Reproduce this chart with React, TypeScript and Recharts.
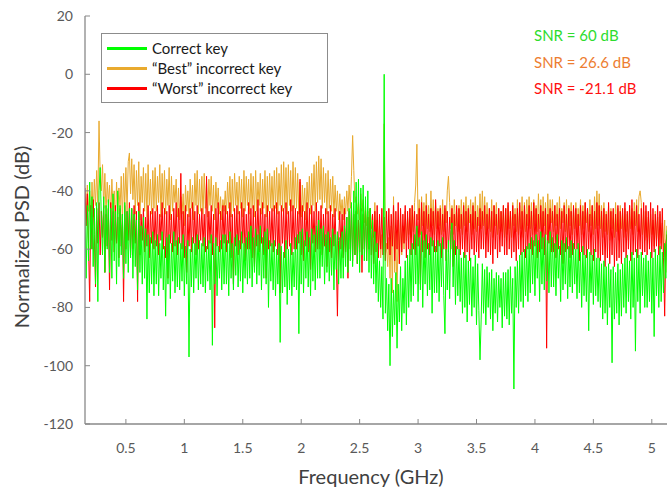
import React from 'react';
import { LineChart, Line, XAxis, YAxis, Legend } from 'recharts';

// Sampling grid of the traces (GHz)
const FREQ_START = 0.15;
const FREQ_STEP = 0.01;

// "Correct key" trace (dB), 20 samples per 0.2 GHz row
const correctKey = [
  -48, -70, -45, -64, -37, -60, -42, -66, -46, -72, -44, -78, -40, -32, -50, -62, -42, -68, -45, -60,
  -43, -68, -46, -70, -41, -64, -47, -72, -40, -66, -45, -62, -48, -70, -44, -65, -47, -68, -46, -63,
  -46, -70, -48, -66, -50, -74, -47, -68, -52, -72, -49, -70, -53, -84, -55, -75, -56, -72, -54, -76,
  -57, -72, -55, -76, -58, -70, -54, -74, -59, -83, -56, -72, -55, -77, -58, -71, -54, -75, -57, -73,
  -56, -74, -58, -71, -55, -76, -59, -72, -57, -97, -60, -73, -56, -75, -58, -70, -55, -74, -57, -72,
  -58, -73, -56, -75, -59, -71, -57, -74, -55, -93, -58, -72, -56, -76, -59, -70, -57, -74, -55, -72,
  -55, -72, -57, -76, -54, -70, -58, -74, -56, -69, -55, -73, -57, -71, -54, -75, -58, -70, -56, -72,
  -54, -70, -52, -73, -56, -68, -53, -72, -55, -69, -52, -74, -56, -70, -54, -72, -53, -80, -57, -71,
  -58, -74, -57, -76, -60, -72, -58, -92, -59, -75, -61, -73, -57, -79, -60, -74, -58, -76, -61, -73,
  -56, -74, -55, -89, -54, -72, -53, -75, -57, -70, -54, -73, -56, -76, -53, -71, -55, -74, -52, -70,
  -50, -70, -53, -66, -52, -72, -55, -68, -54, -71, -56, -69, -53, -74, -55, -67, -54, -72, -56, -70,
  -54, -70, -52, -66, -49, -68, -46, -64, -44, -66, -40, -62, -37, -65, -36, -68, -39, -62, -38, -64,
  -42, -64, -40, -68, -46, -70, -50, -72, -54, -75, -58, -78, -64, -80, -66, -84, 0, -82, -70, -88,
  -72, -100, -70, -90, -74, -86, -68, -94, -72, -85, -66, -88, -70, -82, -64, -86, -62, -80, -60, -78,
  -58, -76, -55, -72, -52, -78, -56, -74, -54, -80, -57, -72, -55, -76, -58, -74, -56, -82, -57, -75,
  -59, -75, -57, -78, -58, -73, -56, -76, -89, -60, -74, -57, -77, -55, -51, -73, -57, -79, -59, -76,
  -60, -78, -63, -82, -61, -80, -62, -85, -64, -79, -63, -83, -66, -80, -62, -86, -65, -81, -98, -84,
  -65, -82, -67, -86, -66, -80, -68, -84, -67, -88, -70, -82, -68, -85, -69, -80, -70, -87, -68, -83,
  -68, -84, -67, -86, -66, -82, -70, -108, -66, -80, -64, -82, -62, -78, -61, -80, -60, -76, -59, -78,
  -58, -75, -56, -72, -57, -76, -55, -70, -57, -78, -54, -72, -56, -74, -55, -71, -57, -75, -54, -73,
  -56, -73, -58, -76, -55, -70, -59, -78, -57, -74, -58, -72, -56, -77, -59, -73, -57, -75, -58, -72,
  -60, -77, -58, -75, -61, -80, -59, -76, -62, -78, -60, -88, -61, -75, -62, -79, -60, -76, -63, -78,
  -63, -80, -65, -84, -64, -82, -66, -86, -65, -80, -67, -99, -66, -84, -68, -82, -65, -86, -67, -83,
  -65, -80, -63, -82, -62, -78, -64, -84, -61, -80, -63, -95, -60, -78, -62, -82, -61, -76, -63, -80,
  -62, -80, -64, -78, -61, -82, -63, -90, -60, -76, -62, -80, -59, -78, -61, -75, -58, -70, -54, -52,
];

// "Best" incorrect key trace (dB)
const bestKey = [
  -42, -50, -38, -47, -40, -52, -37, -49, -36, -45, -33, -44, -16, -35, -40, -31, -46, -34, -48, -37,
  -44, -38, -50, -36, -47, -40, -52, -37, -48, -39, -46, -35, -50, -34, -45, -32, -47, -30, -27, -41,
  -29, -43, -31, -48, -33, -45, -30, -50, -35, -44, -32, -47, -34, -49, -31, -45, -36, -48, -33, -46,
  -32, -47, -35, -44, -31, -49, -34, -46, -33, -48, -36, -45, -32, -50, -35, -47, -38, -44, -36, -49,
  -39, -50, -42, -48, -41, -52, -38, -47, -40, -49, -36, -46, -38, -50, -34, -45, -33, -48, -36, -47,
  -35, -48, -34, -46, -37, -49, -36, -45, -35, -47, -38, -50, -37, -46, -39, -48, -42, -50, -43, -47,
  -40, -48, -37, -46, -35, -49, -36, -47, -34, -45, -37, -48, -35, -46, -36, -49, -33, -47, -35, -45,
  -36, -48, -34, -46, -35, -49, -33, -47, -37, -45, -34, -48, -36, -46, -33, -49, -35, -47, -34, -46,
  -35, -47, -33, -46, -32, -48, -34, -45, -31, -47, -30, -46, -32, -48, -31, -45, -33, -47, -30, -46,
  -32, -46, -34, -48, -37, -49, -38, -47, -39, -50, -37, -46, -35, -48, -34, -45, -31, -47, -30, -44,
  -28, -43, -29, -46, -32, -44, -34, -48, -33, -46, -36, -47, -35, -49, -38, -47, -40, -50, -41, -48,
  -43, -50, -42, -48, -40, -47, -38, -46, -35, -21, -33, -44, -42, -48, -44, -50, -41, -47, -43, -51,
  -45, -52, -47, -55, -46, -53, -48, -56, -44, -58, -50, -60, -52, -63, -55, -60, -17, -62, -58, -66,
  -56, -70, -52, -75, -42, -68, -54, -78, -50, -65, -48, -62, -52, -60, -47, -57, -49, -55, -46, -56,
  -45, -54, -44, -38, -24, -50, -43, -55, -42, -52, -44, -56, -41, -53, -45, -54, -40, -52, -43, -55,
  -44, -53, -46, -52, -45, -55, -43, -54, -46, -51, -40, -35, -44, -53, -45, -55, -43, -52, -46, -54,
  -45, -53, -43, -55, -44, -52, -42, -54, -45, -51, -43, -55, -44, -53, -42, -54, -45, -52, -41, -53,
  -40, -52, -42, -55, -44, -53, -46, -54, -43, -56, -45, -52, -44, -55, -46, -53, -47, -54, -45, -56,
  -46, -55, -45, -53, -47, -56, -44, -52, -46, -54, -43, -55, -45, -53, -42, -56, -44, -54, -43, -52,
  -42, -53, -44, -55, -43, -52, -45, -54, -41, -53, -43, -56, -42, -52, -44, -55, -41, -53, -43, -51,
  -43, -54, -45, -52, -44, -55, -42, -53, -46, -51, -44, -54, -43, -56, -45, -52, -44, -55, -46, -53,
  -44, -54, -46, -52, -43, -55, -45, -53, -44, -51, -46, -54, -43, -52, -45, -55, -42, -53, -40, -52,
  -41, -53, -45, -56, -44, -54, -47, -55, -45, -57, -46, -53, -47, -56, -44, -54, -46, -57, -45, -53,
  -47, -56, -46, -54, -48, -57, -45, -53, -46, -55, -44, -52, -43, -54, -42, -40, -44, -55, -47, -57,
  -47, -56, -49, -58, -48, -55, -50, -59, -47, -57, -49, -60, -48, -58, -51, -62, -50, -68, -52, -72,
];

// "Worst" incorrect key trace (dB)
const worstKey = [
  -39, -52, -41, -58, -78, -45, -60, -43, -55, -73, -46, -58, -44, -62, -47, -56, -45, -68, -48, -59,
  -46, -74, -44, -57, -47, -61, -45, -58, -49, -63, -46, -59, -48, -78, -45, -60, -47, -57, -44, -62,
  -46, -60, -45, -58, -47, -78, -44, -62, -48, -57, -46, -61, -49, -59, -45, -63, -47, -58, -46, -60,
  -47, -59, -45, -62, -48, -57, -44, -60, -46, -63, -47, -70, -45, -58, -48, -61, -46, -59, -44, -62,
  -46, -58, -34, -60, -47, -63, -45, -68, -48, -59, -46, -61, -44, -58, -47, -62, -45, -60, -48, -57,
  -46, -59, -48, -61, -35, -60, -47, -58, -45, -62, -48, -87, -46, -59, -44, -61, -47, -60, -45, -58,
  -45, -61, -47, -58, -44, -63, -48, -72, -46, -59, -45, -62, -47, -60, -44, -58, -46, -64, -48, -60,
  -44, -60, -46, -63, -45, -66, -47, -59, -43, -61, -46, -58, -44, -62, -48, -70, -45, -60, -47, -59,
  -46, -61, -45, -59, -44, -62, -47, -75, -45, -58, -46, -63, -44, -60, -47, -59, -43, -62, -45, -60,
  -46, -60, -47, -58, -36, -62, -45, -64, -47, -59, -44, -61, -46, -67, -45, -58, -47, -61, -44, -60,
  -47, -60, -45, -62, -48, -59, -46, -66, -47, -61, -45, -63, -48, -59, -46, -62, -83, -57, -47, -60,
  -48, -63, -46, -61, -49, -70, -47, -60, -45, -64, -48, -62, -47, -65, -50, -61, -46, -68, -48, -60,
  -47, -64, -49, -60, -46, -62, -48, -65, -47, -61, -45, -63, -48, -60, -46, -62, -49, -64, -47, -60,
  -46, -62, -48, -59, -45, -64, -47, -60, -44, -65, -46, -61, -48, -58, -45, -63, -47, -60, -46, -62,
  -45, -60, -47, -62, -48, -59, -46, -72, -44, -61, -47, -63, -45, -60, -48, -62, -46, -59, -47, -61,
  -43, -61, -47, -59, -46, -63, -48, -60, -45, -64, -47, -61, -49, -60, -46, -66, -48, -62, -45, -60,
  -46, -62, -48, -60, -45, -63, -47, -61, -46, -64, -48, -60, -45, -62, -47, -61, -49, -63, -46, -60,
  -47, -60, -45, -63, -48, -61, -46, -62, -47, -65, -45, -60, -48, -63, -46, -61, -47, -59, -45, -62,
  -46, -62, -44, -60, -47, -63, -45, -61, -48, -64, -46, -60, -44, -62, -47, -61, -45, -63, -48, -60,
  -45, -60, -47, -62, -44, -59, -46, -63, -48, -61, -45, -60, -47, -62, -46, -94, -48, -58, -46, -61,
  -47, -61, -45, -63, -48, -60, -46, -62, -47, -65, -45, -61, -48, -60, -46, -63, -47, -62, -45, -60,
  -46, -60, -48, -64, -45, -61, -47, -62, -44, -63, -46, -60, -48, -62, -45, -64, -47, -61, -44, -63,
  -45, -64, -47, -62, -46, -66, -48, -63, -44, -65, -47, -62, -46, -66, -48, -64, -45, -63, -47, -65,
  -46, -61, -44, -63, -47, -60, -45, -64, -43, -62, -47, -61, -45, -63, -48, -60, -46, -62, -44, -61,
  -45, -62, -47, -60, -44, -63, -46, -61, -48, -59, -45, -62, -47, -60, -46, -63, -83, -58, -55, -60,
];

const xTicks = [0.5, 1, 1.5, 2, 2.5, 3, 3.5, 4, 4.5, 5];
const yTicks = [-120, -100, -80, -60, -40, -20, 0, 20];

const legendItems = [
  { name: 'Correct key', color: '#00FF00' },
  { name: '\u201CBest\u201D incorrect key', color: '#E9AA2E' },
  { name: '\u201CWorst\u201D incorrect key', color: '#FF0000' },
];

const snrLabels = [
  { text: 'SNR = 60 dB', color: '#2EDC2E' },
  { text: 'SNR = 26.6 dB', color: '#ED7D31' },
  { text: 'SNR = -21.1 dB', color: '#FF1010' },
];

const data = correctKey.map((v, i) => ({
  f: Number((FREQ_START + i * FREQ_STEP).toFixed(3)),
  correct: v,
  best: bestKey[i],
  worst: worstKey[i],
}));

const FONT = 'Lato, "Open Sans", sans-serif';
const AXIS_COLOR = '#898989';
const TICK_TEXT = { fill: '#595959', fontSize: 14, fontFamily: FONT };

const LegendBox = () => (
  <div
    style={{
      width: 225,
      height: 68,
      border: '1px solid #8c8c8c',
      background: '#fff',
      position: 'relative',
      fontFamily: FONT,
      fontSize: 15,
      color: '#1a1a1a',
    }}
  >
    {legendItems.map((it, i) => (
      <div
        key={it.name}
        style={{ position: 'absolute', left: 5, top: 4 + i * 20, height: 20, display: 'flex', alignItems: 'center' }}
      >
        <div style={{ width: 40, height: 3, background: it.color }} />
        <span style={{ marginLeft: 5, whiteSpace: 'nowrap' }}>{it.name}</span>
      </div>
    ))}
  </div>
);

export default function App() {
  return (
    <div style={{ position: 'absolute', left: 0, top: 0, width: 667, height: 488, background: '#fff', overflow: 'hidden' }}>
      <LineChart width={667} height={488} data={data} margin={{ top: 16, right: 0, bottom: 0, left: 0 }}>
        <XAxis
          dataKey="f"
          type="number"
          domain={[0.15, 5.13]}
          ticks={xTicks}
          allowDataOverflow
          height={64}
          tickSize={-5}
          tickMargin={24}
          tick={TICK_TEXT}
          tickLine={{ stroke: AXIS_COLOR }}
          axisLine={{ stroke: AXIS_COLOR, strokeWidth: 1.3 }}
        />
        <XAxis
          xAxisId="top"
          orientation="top"
          type="number"
          domain={[0.15, 5.13]}
          ticks={xTicks}
          allowDataOverflow
          height={0}
          tickSize={-5}
          tickFormatter={() => ''}
          tickLine={{ stroke: AXIS_COLOR }}
          axisLine={{ stroke: AXIS_COLOR, strokeWidth: 1.3 }}
        />
        <YAxis
          type="number"
          domain={[-120, 20]}
          ticks={yTicks}
          allowDataOverflow
          width={85}
          tickSize={-5}
          tickMargin={17}
          tick={TICK_TEXT}
          tickLine={{ stroke: AXIS_COLOR }}
          axisLine={{ stroke: AXIS_COLOR, strokeWidth: 1.3 }}
        />
        <YAxis
          yAxisId="right"
          orientation="right"
          type="number"
          domain={[-120, 20]}
          ticks={yTicks}
          width={0}
          tickSize={-5}
          tickFormatter={() => ''}
          tickLine={{ stroke: AXIS_COLOR }}
          axisLine={false}
        />
        <Legend
          layout="horizontal"
          verticalAlign="middle"
          align="center"
          wrapperStyle={{ position: 'absolute', left: 101, top: 33, width: 227, height: 70 }}
          content={() => <LegendBox />}
        />
        <Line dataKey="best" stroke="#E9AA2E" strokeWidth={1} dot={false} isAnimationActive={false} />
        <Line dataKey="worst" stroke="#FF0000" strokeWidth={1} dot={false} isAnimationActive={false} />
        <Line dataKey="correct" stroke="#00FF00" strokeWidth={1} dot={false} isAnimationActive={false} />
      </LineChart>
      {snrLabels.map((s, i) => (
        <div
          key={s.text}
          style={{
            position: 'absolute',
            left: 534,
            top: [35, 62, 88][i] - 10,
            height: 20,
            lineHeight: '20px',
            fontFamily: FONT,
            fontSize: 15,
            color: s.color,
            whiteSpace: 'nowrap',
          }}
        >
          {s.text}
        </div>
      ))}
      <div
        style={{
          position: 'absolute',
          left: 21,
          top: 237,
          lineHeight: '22px',
          transform: 'translate(-50%, -50%) rotate(-90deg)',
          fontFamily: FONT,
          fontSize: 20,
          color: '#404040',
          whiteSpace: 'nowrap',
        }}
      >
        Normalized PSD (dB)
      </div>
      <div
        style={{
          position: 'absolute',
          left: 371,
          top: 476,
          lineHeight: '20px',
          transform: 'translate(-50%, -50%)',
          fontFamily: FONT,
          fontSize: 20,
          color: '#404040',
          whiteSpace: 'nowrap',
        }}
      >
        Frequency (GHz)
      </div>
    </div>
  );
}
